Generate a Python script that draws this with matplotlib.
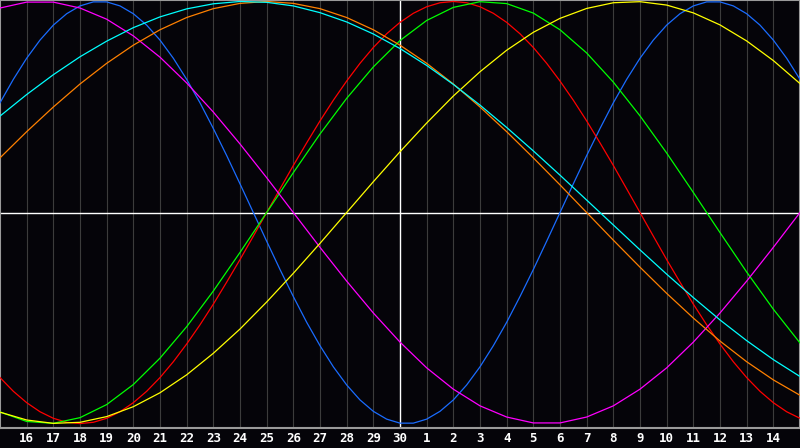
import numpy as np
import matplotlib
matplotlib.use('Agg')
import matplotlib.pyplot as plt

# Day labels along the bottom (index 1..29 on the day axis)
days = ["16","17","18","19","20","21","22","23","24","25","26","27","28","29","30",
        "1","2","3","4","5","6","7","8","9","10","11","12","13","14"]

# Sampling positions (day index)
t_half = np.arange(0, 61) / 2.0
t_day = np.arange(0, 31)

# Values (-1 .. 1)
physical_23 = [0.520,0.631,0.731,0.817,0.888,0.942,0.979,0.998,0.998,0.979,0.942,0.888,0.817,0.731,0.631,0.520,
               0.398,0.270,0.136,0.000,-0.136,-0.270,-0.398,-0.520,-0.631,-0.731,-0.817,-0.888,-0.942,-0.979,-0.998,-0.998,
               -0.979,-0.942,-0.888,-0.817,-0.731,-0.631,-0.520,-0.398,-0.270,-0.136,0.000,0.136,0.270,0.398,0.520,0.631,
               0.731,0.817,0.888,0.942,0.979,0.998,0.998,0.979,0.942,0.888,0.817,0.731,0.631]
emotional_28 = [-0.782,-0.847,-0.901,-0.944,-0.975,-0.994,-1.000,-0.994,-0.975,-0.944,-0.901,-0.847,-0.782,-0.707,
                -0.623,-0.532,-0.434,-0.330,-0.223,-0.112,0.000,
                0.112,0.223,0.330,0.434,0.532,0.623,0.707,0.782,0.847,0.901,0.944,0.975,0.994,1.000,
                0.994,0.975,0.944,0.901,0.847,0.782,0.707,0.623,0.532,0.434,0.330,0.223,0.112,0.000,
                -0.112,-0.223,-0.330,-0.434,-0.532,-0.623,-0.707,-0.782,-0.847,-0.901,-0.944,-0.975]
intellectual_33 = [-0.945,-0.990,-0.999,-0.972,-0.910,-0.815,-0.690,-0.541,-0.372,-0.189,0.000,0.189,0.372,0.541,
                   0.690,0.815,0.910,0.972,0.999,0.990,0.945,0.866,0.756,0.618,0.458,0.282,0.095,-0.095,-0.282,
                   -0.458,-0.618]
intuitive_38 = [0.969,0.997,0.997,0.969,0.916,0.837,0.736,0.614,0.476,0.325,0.165,-0.000,-0.165,-0.325,-0.476,
                -0.614,-0.736,-0.837,-0.916,-0.969,-0.997,-0.997,-0.969,-0.916,-0.837,-0.736,-0.614,-0.476,-0.325,
                -0.165,0.000]
aesthetic_43 = [-0.946,-0.983,-0.999,-0.994,-0.967,-0.920,-0.854,-0.769,-0.667,-0.552,-0.424,-0.288,-0.146,0.000,
                0.146,0.288,0.424,0.552,0.667,0.769,0.854,0.920,0.967,0.994,0.999,0.983,0.946,0.889,0.813,0.720,0.611]
awareness_48 = [0.259,0.383,0.500,0.609,0.707,0.793,0.866,0.924,0.966,0.991,1.000,0.991,0.966,0.924,0.866,0.793,
                0.707,0.609,0.500,0.383,0.259,0.131,0.000,-0.131,-0.259,-0.383,-0.500,-0.609,-0.707,-0.793,-0.866]
spiritual_53 = [0.457,0.559,0.653,0.738,0.812,0.876,0.927,0.965,0.989,1.000,0.996,0.979,0.947,0.903,0.846,0.777,
                0.697,0.607,0.509,0.403,0.292,0.177,0.059,-0.059,-0.177,-0.292,-0.403,-0.509,-0.607,-0.697,-0.777]

series = [
    (t_half, physical_23, '#1a6cff'),
    (t_half, emotional_28, '#ff0000'),
    (t_day, intellectual_33, '#00ff00'),
    (t_day, intuitive_38, '#ff00ff'),
    (t_day, aesthetic_43, '#ffff00'),
    (t_day, awareness_48, '#ff8000'),
    (t_day, spiritual_53, '#00ffff'),
]

bg = '#050409'
fig = plt.figure(figsize=(8, 4.48), dpi=100)
fig.patch.set_facecolor(bg)
ax = fig.add_axes([0, 20/448, 1, 428/448])
ax.set_facecolor(bg)
ax.set_xlim(0, 30)
ax.set_ylim(-1.021, 1.007)
for k, s in ax.spines.items():
    s.set_color('#9a9a9a'); s.set_linewidth(1.5)
for i in range(1, 30):
    if i != 15:
        ax.axvline(i, color='#3c3c3c', lw=0.8, zorder=1)
ax.axvline(15, color='white', lw=1.0, zorder=2)
ax.axhline(0, color='white', lw=1.0, zorder=2)
for x, v, c in series:
    ax.plot(x, v, color=c, lw=0.9, zorder=3)
ax.set_yticks([])
ax.set_xticks(range(1, 30))
ax.set_xticklabels(days, color='white', fontsize=9, fontweight='bold', family='DejaVu Sans Mono')
ax.tick_params(axis='x', length=0, pad=3)
fig.savefig('out.png', dpi=100, facecolor=bg)
